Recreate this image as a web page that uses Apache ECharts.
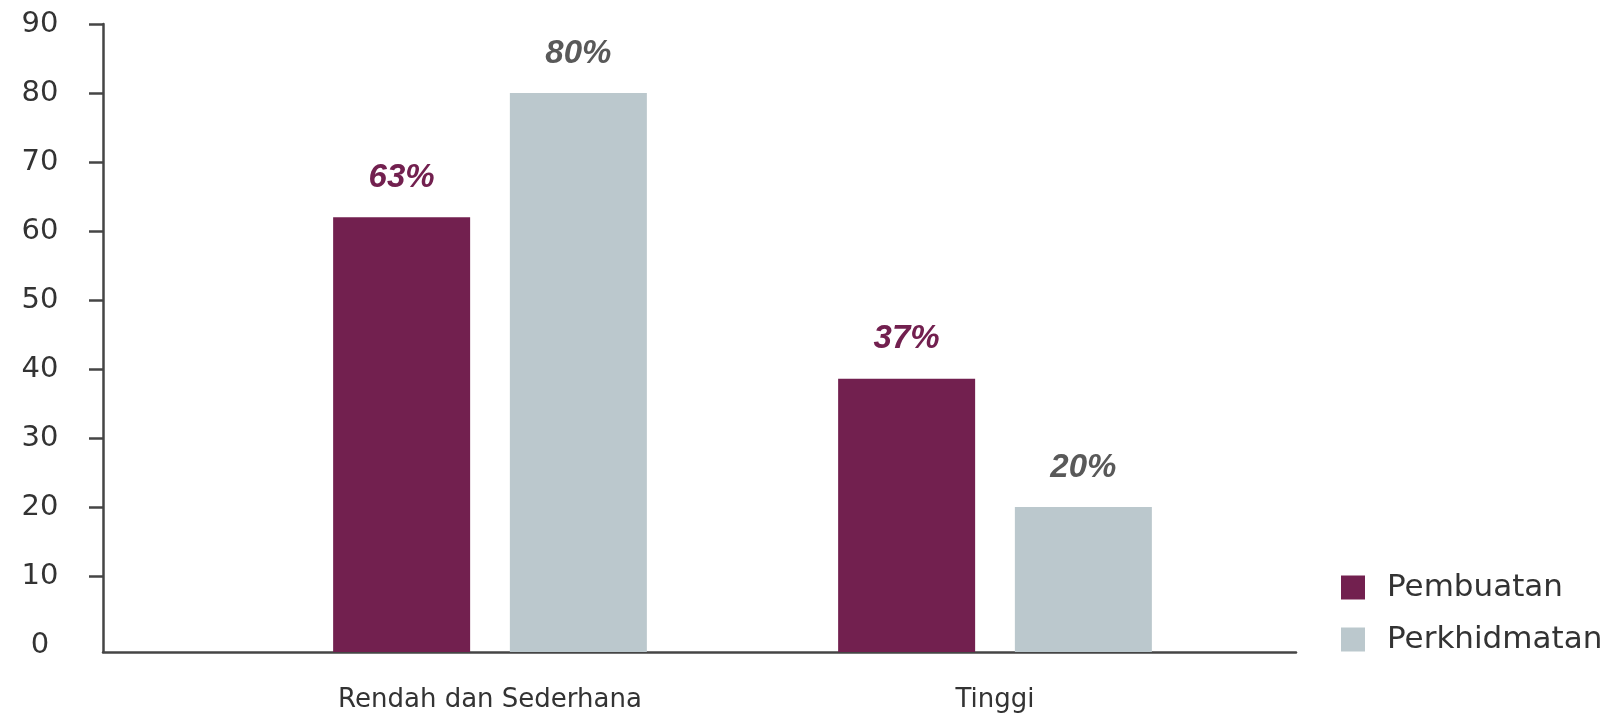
<!DOCTYPE html>
<html>
<head>
<meta charset="utf-8">
<script src="https://cdn.jsdelivr.net/npm/echarts@6/dist/echarts.min.js"></script>
<style>
html,body{margin:0;padding:0;background:#fff;}
#chart{width:1621px;height:713px;}
</style>
</head>
<body>
<div id="chart"></div>
<script>
const categories = ['Rendah dan Sederhana', 'Tinggi'];
const seriesNames = ['Pembuatan', 'Perkhidmatan'];
const pembuatan = [62, 38.6];
const perkhidmatan = [80, 20];
const pembuatanLabels = ['63%', '37%'];
const perkhidmatanLabels = ['80%', '20%'];
const yTicks = [10, 20, 30, 40, 50, 60, 70, 80, 90];
const yLabels = [0, 10, 20, 30, 40, 50, 60, 70, 80, 90];

const purple = '#72204F';
const grey = '#BBC8CD';
const axisColor = '#454545';

const chart = echarts.init(document.getElementById('chart'), null, {renderer: 'canvas'});
const option = {
  animation: false,
  backgroundColor: '#fff',
  grid: [
    {left: 103, right: 325, top: 24, bottom: 61},
    {left: 237.5, width: 1010, top: 24, bottom: 61}
  ],
  legend: {
    orient: 'vertical',
    left: 1336,
    top: 567,
    itemWidth: 24,
    itemHeight: 24,
    itemGap: 21,
    icon: 'rect',
    data: seriesNames,
    textStyle: {fontFamily: 'DejaVu Sans', fontSize: 31, color: '#333', padding: [0, 0, 0, 17]},
    itemStyle: {borderWidth: 0}
  },
  xAxis: [
    {
      gridIndex: 0, type: 'category', data: [''],
      axisLine: {show: true, onZero: false, lineStyle: {color: axisColor, width: 2.5}},
      axisTick: {show: false}, axisLabel: {show: false}, splitLine: {show: false}
    },
    {
      gridIndex: 1, type: 'category', data: categories,
      axisLine: {show: false}, axisTick: {show: false},
      axisLabel: {margin: 35, fontFamily: 'DejaVu Sans', fontSize: 26, color: '#333'},
      splitLine: {show: false}
    }
  ],
  yAxis: [
    {
      gridIndex: 0, type: 'value', min: -1, max: 90, startValue: -1,
      axisLine: {show: true, lineStyle: {color: axisColor, width: 2.5}},
      axisTick: {show: true, length: 14, customValues: yTicks, lineStyle: {color: axisColor, width: 2.5}},
      axisLabel: {customValues: yLabels, align: 'center', margin: 63, fontFamily: 'DejaVu Sans', fontSize: 29, color: '#333'},
      splitLine: {show: false}
    },
    {
      gridIndex: 1, type: 'value', min: -1, max: 90, startValue: -1,
      show: false, splitLine: {show: false}
    }
  ],
  series: [
    {
      name: seriesNames[0], type: 'bar', xAxisIndex: 1, yAxisIndex: 1,
      data: pembuatan, barWidth: 137, barGap: '29%',
      itemStyle: {color: purple},
      label: {
        show: true, position: 'top', distance: 23,
        formatter: p => pembuatanLabels[p.dataIndex],
        fontFamily: 'Liberation Sans', fontStyle: 'italic', fontWeight: 'bold', fontSize: 33, color: purple
      }
    },
    {
      name: seriesNames[1], type: 'bar', xAxisIndex: 1, yAxisIndex: 1,
      data: perkhidmatan, barWidth: 137, barGap: '29%',
      itemStyle: {color: grey},
      label: {
        show: true, position: 'top', distance: 23,
        formatter: p => perkhidmatanLabels[p.dataIndex],
        fontFamily: 'Liberation Sans', fontStyle: 'italic', fontWeight: 'bold', fontSize: 33, color: '#595959'
      }
    }
  ]
};
chart.setOption(option);
</script>
</body>
</html>
